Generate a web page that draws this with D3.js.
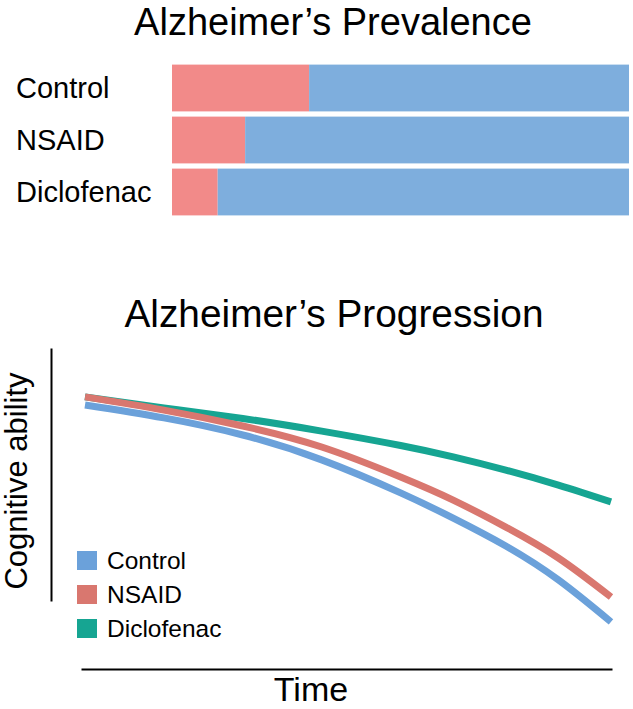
<!DOCTYPE html>
<html>
<head>
<meta charset="utf-8">
<script src="https://cdn.jsdelivr.net/npm/d3@7"></script>
<style>
	body { margin: 0; background: #fff; }
	text { font-family: "Liberation Sans", Arial, sans-serif; fill: #000; }
</style>
</head>
<body>
<div id="chart"></div>
<script>
//===== DATA =====//

var groups = ['Control', 'NSAID', 'Diclofenac'];
// share of patients with / without Alzheimer's (%)
var withAD = [30, 16, 10];
var withoutAD = [70, 84, 90];

var timePoints = [0, 1.5, 3, 4.5, 6, 7, 8, 9, 10];
var controlAbility = [85, 80.7, 75, 66.7, 55.7, 47.3, 38, 26.7, 12.7];
var nsaidAbility = [87.7, 83.3, 78, 71, 61, 53.3, 44.3, 34, 21];
var diclofenacAbility = [87.7, 84, 80.5, 76.3, 71.5, 67.7, 63.3, 58.3, 52.7];

var lineColors = ['#6ba1da', '#d9776f', '#16a592'];
var barColors = ['#f28a89', '#7eaedd'];

//===== SETUP =====//

var width = 633, height = 709;
var svg = d3.select('#chart').append('svg')
	.attr('width', width)
	.attr('height', height);

//===== PREVALENCE BARS =====//

svg.append('text')
	.attr('x', 333).attr('y', 35)
	.attr('text-anchor', 'middle')
	.style('font-size', '38px')
	.text('Alzheimer\u2019s Prevalence');

var xBar = d3.scaleLinear().domain([0, 100]).range([172, 629]);
var yBar = d3.scaleBand().domain(groups).range([62, 218]).paddingInner(0.1).paddingOuter(0.05);

var stackRows = groups.map(function (g, i) {
	return {group: g, yes: withAD[i], no: withoutAD[i]};
});
var stacked = d3.stack().keys(['yes', 'no'])(stackRows);

svg.append('g').selectAll('g')
	.data(stacked)
	.enter().append('g')
	.attr('fill', function (d, i) { return barColors[i]; })
	.selectAll('rect')
	.data(function (d) { return d; })
	.enter().append('rect')
	.attr('x', function (d) { return xBar(d[0]); })
	.attr('width', function (d) { return xBar(d[1]) - xBar(d[0]); })
	.attr('y', function (d) { return yBar(d.data.group); })
	.attr('height', yBar.bandwidth());

svg.append('g').selectAll('text')
	.data(groups)
	.enter().append('text')
	.attr('x', 16)
	.attr('y', function (d) { return yBar(d) + yBar.bandwidth() / 2 + 10; })
	.style('font-size', '29px')
	.text(function (d) { return d; });

//===== PROGRESSION LINES =====//

svg.append('text')
	.attr('x', 334).attr('y', 327)
	.attr('text-anchor', 'middle')
	.style('font-size', '38.8px')
	.text('Alzheimer\u2019s Progression');

var xTime = d3.scaleLinear().domain([0, 10]).range([85, 611]);
var yAbility = d3.scaleLinear().domain([0, 100]).range([660, 360]);

// bare axes, no ticks
svg.append('g')
	.attr('transform', 'translate(51,0)')
	.call(d3.axisLeft(d3.scaleLinear().range([601, 348])).tickValues([]).tickSizeOuter(0))
	.select('.domain').attr('stroke-width', 2);

svg.append('g')
	.attr('transform', 'translate(0,669)')
	.call(d3.axisBottom(d3.scaleLinear().range([81, 612])).tickValues([]).tickSizeOuter(0))
	.select('.domain').attr('stroke-width', 2);

svg.append('text')
	.attr('x', 311).attr('y', 701)
	.attr('text-anchor', 'middle')
	.style('font-size', '34px')
	.text('Time');

svg.append('text')
	.attr('transform', 'translate(27,481) rotate(-90)')
	.attr('text-anchor', 'middle')
	.style('font-size', '31px')
	.text('Cognitive ability');

var series = [
	{name: 'Control', values: controlAbility},
	{name: 'NSAID', values: nsaidAbility},
	{name: 'Diclofenac', values: diclofenacAbility}
];

var line = d3.line()
	.x(function (d, i) { return xTime(timePoints[i]); })
	.y(function (d) { return yAbility(d); })
	.curve(d3.curveNatural);

// draw green first so blue/red sit on top like the reference
svg.append('g').selectAll('path')
	.data(series.slice().reverse())
	.enter().append('path')
	.attr('d', function (d) { return line(d.values); })
	.attr('fill', 'none')
	.attr('stroke', function (d) { return lineColors[groups.indexOf(d.name)]; })
	.attr('stroke-width', 7);

//===== LEGEND =====//

var legend = svg.append('g').selectAll('g')
	.data(series)
	.enter().append('g')
	.attr('transform', function (d, i) { return 'translate(77,' + (551 + i * 34) + ')'; });

legend.append('rect')
	.attr('width', 20).attr('height', 19)
	.attr('fill', function (d, i) { return lineColors[i]; });

legend.append('text')
	.attr('x', 30).attr('y', 18)
	.style('font-size', '24.5px')
	.text(function (d) { return d.name; });
</script>
</body>
</html>
